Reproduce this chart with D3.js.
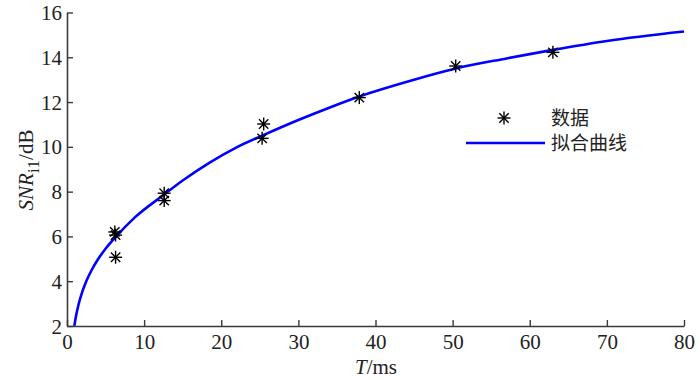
<!DOCTYPE html>
<html><head><meta charset="utf-8">
<script src="https://cdn.jsdelivr.net/npm/d3@7"></script>
<style>body{margin:0;background:#fff;}svg{display:block;}</style>
</head><body>
<svg id="c" width="700" height="380"></svg>
<script>
// Measured data points (T in ms, SNR in dB)
const dataT   = [6.2, 6.3, 6.3, 12.6, 12.6, 25.3, 25.5, 37.9, 50.4, 63.0];
const dataSNR = [6.2, 6.06, 5.07, 7.93, 7.6, 10.38, 11.02, 12.2, 13.61, 14.22];
// Fitted curve
const fitT   = [0.95, 1.2, 1.5, 2, 2.5, 3.2, 4, 5, 6.3, 8.8, 12.5, 15, 18.5, 22, 25.3, 30, 34, 37.9, 45, 50.4, 57, 63, 70, 80];
const fitSNR = [2.0, 2.5, 2.96, 3.55, 4.0, 4.5, 4.97, 5.45, 5.97, 6.85, 7.85, 8.5, 9.3, 9.98, 10.5, 11.2, 11.75, 12.25, 13.0, 13.5, 13.95, 14.33, 14.73, 15.15];
const xTicks = [0, 10, 20, 30, 40, 50, 60, 70, 80];
const yTicks = [2, 4, 6, 8, 10, 12, 14, 16];
const legendLabels = ["数据", "拟合曲线"];

const svg = d3.select("#c");
const x = d3.scaleLinear().domain([0, 80]).range([67, 684]);
const y = d3.scaleLinear().domain([2, 16]).range([326, 12.5]);
const axisColor = "#3a3a3a";
const serif = "'Liberation Serif','Times New Roman',serif";

// fitted curve
const fit = fitT.map((t, i) => [t, fitSNR[i]]);
svg.append("path").datum(fit)
  .attr("d", d3.line().x(d => x(d[0])).y(d => y(d[1])).curve(d3.curveMonotoneX))
  .attr("fill", "none").attr("stroke", "#0000ff").attr("stroke-width", 2.6);

// asterisk marker
function star(g, cx, cy, r) {
  const d = r * 0.72;
  const segs = [[-r,0,r,0],[0,-r,0,r],[-d,-d,d,d],[-d,d,d,-d]];
  segs.forEach(s => g.append("line")
    .attr("x1", cx + s[0]).attr("y1", cy + s[1])
    .attr("x2", cx + s[2]).attr("y2", cy + s[3])
    .attr("stroke", "#000").attr("stroke-width", 1.4));
  g.append("circle").attr("cx", cx).attr("cy", cy).attr("r", 1.4).attr("fill", "#000");
}
const pts = svg.append("g");
dataT.forEach((t, i) => star(pts, x(t), y(dataSNR[i]), 6.5));

// axes
const xAxis = d3.axisBottom(x).tickValues(xTicks).tickSizeInner(-6).tickSizeOuter(0).tickPadding(10);
const yAxis = d3.axisLeft(y).tickValues(yTicks).tickSizeInner(-6).tickSizeOuter(0).tickPadding(10);
const gx = svg.append("g").attr("transform", "translate(0,326)").call(xAxis);
const gy = svg.append("g").attr("transform", "translate(67,0)").call(yAxis);
[gx, gy].forEach(g => {
  g.select(".domain").attr("stroke", axisColor).attr("stroke-width", 1.6);
  g.selectAll(".tick line").attr("stroke", axisColor).attr("stroke-width", 1.4);
  g.selectAll(".tick text").attr("fill", "#222").style("font-family", serif).style("font-size", "21px");
});
gx.selectAll(".tick text").attr("dy", "0.71em").attr("y", 8);
gy.selectAll(".tick text").attr("x", -5).attr("dy", "0.34em");

// axis titles
const xt = svg.append("text").attr("x", 376).attr("y", 374).attr("text-anchor", "middle")
  .style("font-family", serif).style("font-size", "21px").attr("fill", "#222");
xt.append("tspan").style("font-style", "italic").text("T");
xt.append("tspan").text("/ms");

const yt = svg.append("text").attr("transform", "translate(33,170) rotate(-90)").attr("text-anchor", "middle")
  .style("font-family", serif).style("font-size", "21px").attr("fill", "#222");
yt.append("tspan").style("font-style", "italic").text("SNR");
yt.append("tspan").attr("dy", 6).style("font-size", "17px").text("i1");
yt.append("tspan").attr("dy", -6).text("/dB");

// legend
const lg = svg.append("g");
star(lg, 504, 118, 6.5);
lg.append("line").attr("x1", 466).attr("x2", 545).attr("y1", 143).attr("y2", 143)
  .attr("stroke", "#0000ff").attr("stroke-width", 2.6);
legendLabels.forEach((l, i) => lg.append("text").attr("x", 551).attr("y", 118 + i * 25).attr("dy", "0.36em")
  .style("font-family", "'Noto Sans CJK SC',sans-serif").style("font-size", "19px").attr("fill", "#222").text(l));
</script>
</body></html>
